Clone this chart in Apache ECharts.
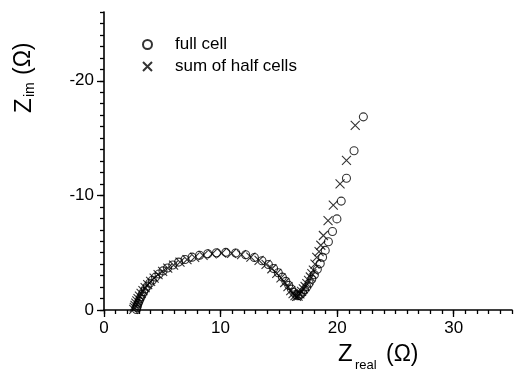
<!DOCTYPE html>
<html>
<head>
<meta charset="utf-8">
<script src="https://cdn.jsdelivr.net/npm/echarts@6/dist/echarts.min.js"></script>
<style>
  html, body { margin: 0; padding: 0; background: #fff; }
  #chart { width: 515px; height: 370px; }
</style>
</head>
<body>
<div id="chart"></div>
<script>
const FONT = "'Liberation Sans', Arial, sans-serif";

// full cell impedance (Ohm)
const fullCellZre = [2.78, 2.82, 2.87, 2.93, 3.0, 3.08, 3.17, 3.28, 3.4, 3.55, 3.72, 3.92, 4.15, 4.42, 4.72, 5.06, 5.45, 5.9, 6.4, 6.95, 7.55, 8.2, 8.9, 9.65, 10.45, 11.3, 12.15, 12.9, 13.55, 14.1, 14.55, 14.95, 15.3, 15.6, 15.85, 16.08, 16.28, 16.45, 16.6, 16.75, 16.9, 17.05, 17.22, 17.4, 17.6, 17.82, 18.05, 18.3, 18.55, 18.75, 18.98, 19.25, 19.6, 19.98, 20.35, 20.8, 21.45, 22.25];
const fullCellZim = [-0.05, -0.22, -0.4, -0.58, -0.77, -0.96, -1.16, -1.38, -1.6, -1.84, -2.08, -2.34, -2.6, -2.87, -3.14, -3.41, -3.67, -3.93, -4.18, -4.41, -4.61, -4.78, -4.91, -5.0, -5.03, -4.97, -4.82, -4.58, -4.3, -3.97, -3.62, -3.25, -2.87, -2.5, -2.15, -1.82, -1.55, -1.35, -1.25, -1.28, -1.4, -1.57, -1.78, -2.03, -2.33, -2.68, -3.08, -3.55, -4.05, -4.6, -5.2, -5.95, -6.85, -7.95, -9.5, -11.5, -13.9, -16.85];

// sum of half cells (Ohm)
const halfSumZre = [2.55, 2.6, 2.66, 2.73, 2.82, 2.92, 3.04, 3.18, 3.34, 3.53, 3.75, 4.0, 4.3, 4.64, 5.03, 5.47, 5.97, 6.52, 7.12, 7.78, 8.5, 9.28, 10.1, 10.95, 11.8, 12.6, 13.3, 13.9, 14.4, 14.82, 15.18, 15.5, 15.78, 16.02, 16.22, 16.38, 16.52, 16.65, 16.8, 16.95, 17.1, 17.25, 17.4, 17.55, 17.7, 17.83, 17.96, 18.1, 18.25, 18.45, 18.6, 18.82, 19.22, 19.67, 20.25, 20.8, 21.55];
const halfSumZim = [-0.05, -0.22, -0.4, -0.6, -0.8, -1.0, -1.22, -1.45, -1.7, -1.95, -2.22, -2.5, -2.79, -3.08, -3.37, -3.65, -3.92, -4.17, -4.4, -4.6, -4.77, -4.9, -4.97, -4.95, -4.83, -4.62, -4.33, -3.98, -3.6, -3.2, -2.8, -2.4, -2.03, -1.7, -1.43, -1.25, -1.18, -1.22, -1.4, -1.62, -1.85, -2.05, -2.3, -2.58, -2.88, -3.17, -3.47, -4.0, -4.6, -5.1, -5.65, -6.5, -7.8, -9.15, -11.0, -13.05, -16.1];

const xTicks = [0, 10, 20, 30];
const yTicks = [0, 10, 20]; // shown as 0, -10, -20

const seriesNames = ["full cell", "sum of half cells"];

const chart = echarts.init(document.getElementById("chart"));

const toPoints = (re, im) => re.map((x, i) => [x, -im[i]]);
const axisBase = { lineStyle: { color: "#000", width: 1.6 } };

chart.setOption({
  animation: false,
  backgroundColor: "#fff",
  grid: { left: 104, right: 3, top: 12, bottom: 60 },
  legend: {
    orient: "vertical",
    left: 137,
    top: 31,
    itemWidth: 9,
    itemHeight: 9,
    itemGap: 5,
    textStyle: { fontFamily: FONT, fontSize: 17, color: "#000", padding: [0, 0, 0, 18] },
    data: seriesNames,
  },
  xAxis: [
    {
      type: "value", min: 0, max: 35, interval: 10,
      axisLine: axisBase,
      axisTick: { length: 7, lineStyle: { color: "#000", width: 1.3 }, customValues: xTicks },
      axisLabel: { customValues: xTicks, margin: 10, color: "#000", fontFamily: FONT, fontSize: 17 },
      splitLine: { show: false },
    },
    {
      type: "value", min: 0, max: 35, interval: 1, position: "bottom",
      axisLine: { show: false },
      axisTick: { length: 4, lineStyle: { color: "#000", width: 1.3 } },
      axisLabel: { show: false },
      splitLine: { show: false },
    },
  ],
  yAxis: [
    {
      type: "value", min: 0, max: 26, interval: 10,
      axisLine: axisBase,
      axisTick: { length: 7, lineStyle: { color: "#000", width: 1.3 }, customValues: yTicks },
      axisLabel: {
        customValues: yTicks, margin: 10, color: "#000", fontFamily: FONT, fontSize: 17,
        formatter: (v) => (v === 0 ? "0" : "-" + v),
      },
      splitLine: { show: false },
    },
    {
      type: "value", min: 0, max: 26, interval: 1, position: "left",
      axisLine: { show: false },
      axisTick: { length: 4, lineStyle: { color: "#000", width: 1.3 } },
      axisLabel: { show: false },
      splitLine: { show: false },
    },
  ],
  series: [
    {
      name: seriesNames[0],
      type: "scatter",
      symbol: "circle",
      symbolSize: 8,
      itemStyle: { color: "rgba(0,0,0,0)", borderColor: "#000", borderWidth: 1.1 },
      data: toPoints(fullCellZre, fullCellZim),
    },
    {
      name: seriesNames[1],
      type: "scatter",
      symbol: "path://M0,0L10,10M10,0L0,10",
      symbolSize: 9,
      itemStyle: { color: "rgba(0,0,0,0)", borderColor: "#000", borderWidth: 1.1 },
      data: toPoints(halfSumZre, halfSumZim),
    },
  ],
  graphic: [
    // y axis title, reads bottom to top
    {
      type: "group", x: 24, y: 113, rotation: Math.PI / 2,
      children: [
        { type: "text", x: 0, y: 0, style: { text: "Z", font: "24px " + FONT, fill: "#000", align: "left", verticalAlign: "middle" } },
        { type: "text", x: 16, y: 6, style: { text: "im", font: "14px " + FONT, fill: "#000", align: "left", verticalAlign: "middle" } },
        { type: "text", x: 38, y: 0, style: { text: "(Ω)", font: "23px " + FONT, fill: "#000", align: "left", verticalAlign: "middle" } },
      ],
    },
    { type: "text", left: 338, top: 342, style: { text: "Z", font: "24px " + FONT, fill: "#000" } },
    { type: "text", left: 355, top: 359, style: { text: "real", font: "13px " + FONT, fill: "#000" } },
    { type: "text", left: 386, top: 343, style: { text: "(Ω)", font: "23px " + FONT, fill: "#000" } },
  ],
});
</script>
</body>
</html>
